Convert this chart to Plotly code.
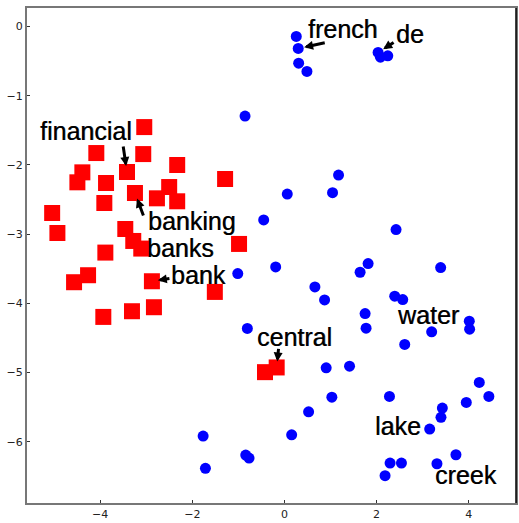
import plotly.graph_objects as go

# ---------------- data ----------------
red_x = [-3.044, -4.085, -3.066, -3.419, -4.388, -2.329, -4.496, -3.874, -2.503, -1.289,
         -3.246, -2.769, -2.329, -3.911, -5.044, -4.930, -3.456, -3.283, -3.109, -3.889,
         -0.986, -4.264, -4.568, -2.878, -1.512, -3.311, -2.834, -3.933, -0.423, -0.169]
red_y = [-1.453, -1.828, -1.843, -2.102, -2.107, -2.001, -2.251, -2.261, -2.319, -2.203,
         -2.405, -2.482, -2.525, -2.550, -2.694, -2.983, -2.925, -3.098, -3.208, -3.266,
         -3.141, -3.593, -3.694, -3.680, -3.834, -4.113, -4.055, -4.195, -4.993, -4.925]

blue_x = [0.256, 0.299, 0.308, 0.488, 2.033, 2.084, 2.243, -0.856, 1.174, 0.061,
          1.044, -0.451, 2.423, -1.014, -0.806, -1.766, -1.716, -0.841, -0.769, -0.191,
          1.816, 1.642, 3.391, 0.661, 0.871, 2.394, 2.568, 1.751, 1.772, 4.013,
          4.020, 3.196, 2.611, 0.906, 1.413, 1.029, 2.280, 4.230, 4.438, 3.948,
          3.428, 3.398, 0.524, 0.156, 3.153, 3.723, 2.293, 2.540, 3.311, 2.184]
blue_y = [-0.144, -0.317, -0.530, -0.649, -0.375, -0.443, -0.423, -1.294, -2.146, -2.420,
          -2.400, -2.795, -2.934, -3.569, -4.362, -5.916, -6.382, -6.190, -6.234, -3.473,
          -3.424, -3.550, -3.482, -3.762, -3.949, -3.896, -3.944, -4.146, -4.358, -4.257,
          -4.372, -4.411, -4.593, -4.931, -4.906, -5.354, -5.343, -5.141, -5.343, -5.430,
          -5.512, -5.646, -5.566, -5.898, -5.815, -6.186, -6.306, -6.306, -6.316, -6.489]

label_text = ["french", "de", "financial", "banking", "banks", "bank", "central", "water", "lake", "creek"]
label_x = [0.478, 2.370, -5.354, -3.000, -3.022, -2.500, -0.630, 2.398, 1.928, 3.233]
label_y = [-0.043, -0.115, -1.505, -2.814, -3.203, -3.583, -4.488, -4.170, -5.768, -6.483]

# arrows: (series, index of the point pointed at, tail dx px, tail dy px)
arrows = [("blue", 1, 28, -6), ("blue", 4, 17, -11), ("red", 3, -4, -27),
          ("red", 10, 9, 24), ("red", 23, 19, -3), ("red", 29, 2, -20)]

x_ticks = [-4, -2, 0, 2, 4]
y_ticks = [0, -1, -2, -3, -4, -5, -6]


def tick_text(v):
    return ("\u2212" + str(-v)) if v < 0 else str(v)


# ---------------- figure ----------------
fig = go.Figure()
fig.add_trace(go.Scatter(x=red_x, y=red_y, mode="markers",
                         marker=dict(symbol="square", size=16, color="#ff0000", line=dict(width=0)),
                         showlegend=False, hoverinfo="skip"))
fig.add_trace(go.Scatter(x=blue_x, y=blue_y, mode="markers",
                         marker=dict(symbol="circle", size=11, color="#0000ff", line=dict(width=0)),
                         showlegend=False, hoverinfo="skip"))

for t, x, y in zip(label_text, label_x, label_y):
    fig.add_annotation(x=x, y=y, text=t, showarrow=False, xanchor="left", yanchor="middle",
                       font=dict(family="Liberation Sans, Arial", size=25, color="black",
                                 shadow="0.6px 0.3px 0px rgba(0,0,0,0.7)"))

for series, idx, dx, dy in arrows:
    px = red_x if series == "red" else blue_x
    py = red_y if series == "red" else blue_y
    fig.add_annotation(x=px[idx], y=py[idx], ax=dx, ay=dy, text="", showarrow=True,
                       arrowhead=2, arrowsize=0.6, arrowwidth=3, arrowcolor="black",
                       standoff=6)

fig.add_shape(type="line", xref="paper", yref="paper", x0=1, x1=1, y0=0, y1=1,
              line=dict(color="black", width=1.5))

fig.update_layout(
    width=519, height=523,
    margin=dict(l=27, r=3, t=8, b=20, autoexpand=False),
    plot_bgcolor="white", paper_bgcolor="white",
    font=dict(family="DejaVu Sans", size=11, color="#222222"),
)
fig.update_xaxes(range=[-5.59, 5.027], tickvals=x_ticks, ticktext=[tick_text(v) for v in x_ticks],
                 showgrid=False, zeroline=False, showline=True, linecolor="#777777", linewidth=2,
                 mirror=True, ticks="inside", ticklen=3, tickcolor="#333333", automargin=False)
fig.update_yaxes(range=[-6.883, 0.267], tickvals=y_ticks, ticktext=[tick_text(v) for v in y_ticks],
                 showgrid=False, zeroline=False, showline=True, linecolor="#777777", linewidth=2,
                 mirror=True, ticks="inside", ticklen=3, tickcolor="#333333", automargin=False)

fig.write_html("out.html", config={"displayModeBar": False},
               post_script="document.body.style.margin='0px';document.body.style.overflow='hidden';")
